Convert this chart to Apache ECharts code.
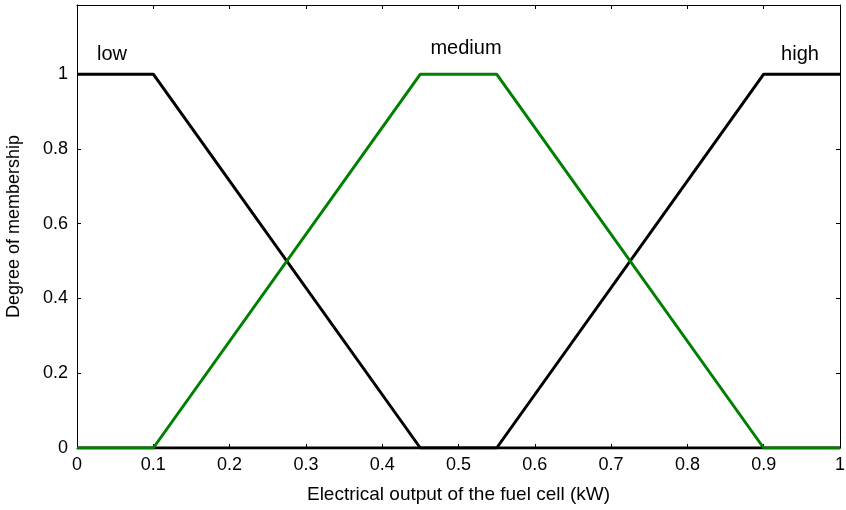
<!DOCTYPE html>
<html>
<head>
<meta charset="utf-8">
<script src="https://cdn.jsdelivr.net/npm/echarts@6/dist/echarts.min.js"></script>
<style>
  html, body { margin: 0; padding: 0; background: #fff; }
  #chart { width: 846px; height: 510px; }
</style>
</head>
<body>
<div id="chart"></div>
<script>
// membership functions (x in kW, y = degree)
const lowMf = [[0, 1], [0.1, 1], [0.45, 0], [1, 0]];
const highMf = [[0, 0], [0.55, 0], [0.9, 1], [1, 1]];
const mediumMf = [[0, 0], [0.1, 0], [0.45, 1], [0.55, 1], [0.9, 0], [1, 0]];
const mfNames = ['low', 'medium', 'high'];

const font = 'Liberation Sans, Arial, sans-serif';
const myChart = echarts.init(document.getElementById('chart'));

const tickStyle = { inside: true, length: 4, lineStyle: { color: '#000' } };
const lineAx = { onZero: false, lineStyle: { color: '#000', width: 1 } };

const option = {
  animation: false,
  grid: { left: 77, right: 6, top: 5, bottom: 62, outerBoundsMode: 'none', containLabel: false },
  xAxis: [{
    type: 'value', min: 0, max: 1, interval: 0.1,
    name: 'Electrical output of the fuel cell (kW)',
    nameLocation: 'middle', nameGap: 37,
    nameTextStyle: { fontFamily: font, fontSize: 19, color: '#000' },
    axisLine: lineAx, axisTick: tickStyle,
    axisLabel: { fontFamily: font, fontSize: 18, color: '#000', margin: 8,
      formatter: v => String(+v.toFixed(1)) },
    splitLine: { show: false }
  }, {
    type: 'value', position: 'top', min: 0, max: 1, interval: 0.1,
    axisLine: lineAx, axisTick: tickStyle, axisLabel: { show: false },
    splitLine: { show: false }
  }],
  yAxis: [{
    type: 'value', min: 0, max: 1.185, interval: 0.2,
    name: 'Degree of membership',
    nameLocation: 'middle', nameGap: 54,
    nameTextStyle: { fontFamily: font, fontSize: 18, color: '#000' },
    axisLine: lineAx, axisTick: tickStyle,
    axisLabel: { fontFamily: font, fontSize: 18, color: '#000', margin: 9, showMaxLabel: false,
      formatter: v => String(+v.toFixed(1)) },
    splitLine: { show: false }
  }, {
    type: 'value', position: 'right', min: 0, max: 1.185, interval: 0.2,
    axisLine: lineAx, axisTick: tickStyle, axisLabel: { show: false },
    splitLine: { show: false }
  }],
  series: [
    { name: 'low', type: 'line', data: lowMf, symbol: 'none', lineStyle: { color: '#000', width: 3 } },
    { name: 'high', type: 'line', data: highMf, symbol: 'none', lineStyle: { color: '#000', width: 3 } },
    { name: 'medium', type: 'line', data: mediumMf, symbol: 'none', lineStyle: { color: '#008000', width: 3 } }
  ],
  graphic: [
    { type: 'text', x: 112, y: 54, style: { text: mfNames[0], font: '20px ' + font, fill: '#000', align: 'center', verticalAlign: 'middle' } },
    { type: 'text', x: 466, y: 48, style: { text: mfNames[1], font: '20px ' + font, fill: '#000', align: 'center', verticalAlign: 'middle' } },
    { type: 'text', x: 800, y: 54, style: { text: mfNames[2], font: '20px ' + font, fill: '#000', align: 'center', verticalAlign: 'middle' } }
  ]
};
myChart.setOption(option);
</script>
</body>
</html>
